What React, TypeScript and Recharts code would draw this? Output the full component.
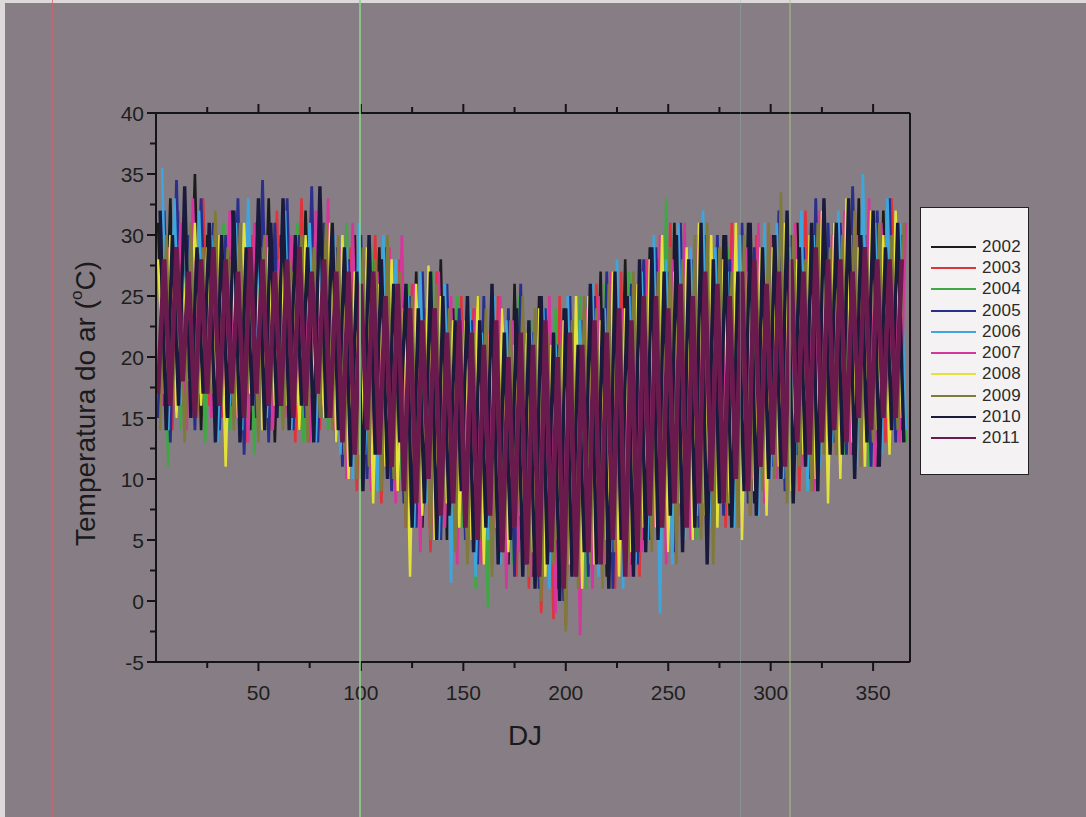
import { Legend, Line, LineChart, XAxis, YAxis } from 'recharts';

// three interleaved sampling grids (day of year)
const daysA = [
  1, 4, 7, 10, 13, 16, 19, 22, 25, 28,
  31, 34, 37, 40, 43, 46, 49, 52, 55, 58,
  61, 64, 67, 70, 73, 76, 79, 82, 85, 88,
  91, 94, 97, 100, 103, 106, 109, 112, 115, 118,
  121, 124, 127, 130, 133, 136, 139, 142, 145, 148,
  151, 154, 157, 160, 163, 166, 169, 172, 175, 178,
  181, 184, 187, 190, 193, 196, 199, 202, 205, 208,
  211, 214, 217, 220, 223, 226, 229, 232, 235, 238,
  241, 244, 247, 250, 253, 256, 259, 262, 265, 268,
  271, 274, 277, 280, 283, 286, 289, 292, 295, 298,
  301, 304, 307, 310, 313, 316, 319, 322, 325, 328,
  331, 334, 337, 340, 343, 346, 349, 352, 355, 358,
  361, 364,
];
const daysB = [
  2, 5, 8, 11, 14, 17, 20, 23, 26, 29,
  32, 35, 38, 41, 44, 47, 50, 53, 56, 59,
  62, 65, 68, 71, 74, 77, 80, 83, 86, 89,
  92, 95, 98, 101, 104, 107, 110, 113, 116, 119,
  122, 125, 128, 131, 134, 137, 140, 143, 146, 149,
  152, 155, 158, 161, 164, 167, 170, 173, 176, 179,
  182, 185, 188, 191, 194, 197, 200, 203, 206, 209,
  212, 215, 218, 221, 224, 227, 230, 233, 236, 239,
  242, 245, 248, 251, 254, 257, 260, 263, 266, 269,
  272, 275, 278, 281, 284, 287, 290, 293, 296, 299,
  302, 305, 308, 311, 314, 317, 320, 323, 326, 329,
  332, 335, 338, 341, 344, 347, 350, 353, 356, 359,
  362, 365,
];
const daysC = [
  3, 6, 9, 12, 15, 18, 21, 24, 27, 30,
  33, 36, 39, 42, 45, 48, 51, 54, 57, 60,
  63, 66, 69, 72, 75, 78, 81, 84, 87, 90,
  93, 96, 99, 102, 105, 108, 111, 114, 117, 120,
  123, 126, 129, 132, 135, 138, 141, 144, 147, 150,
  153, 156, 159, 162, 165, 168, 171, 174, 177, 180,
  183, 186, 189, 192, 195, 198, 201, 204, 207, 210,
  213, 216, 219, 222, 225, 228, 231, 234, 237, 240,
  243, 246, 249, 252, 255, 258, 261, 264, 267, 270,
  273, 276, 279, 282, 285, 288, 291, 294, 297, 300,
  303, 306, 309, 312, 315, 318, 321, 324, 327, 330,
  333, 336, 339, 342, 345, 348, 351, 354, 357, 360,
  363, 366,
];

const t2002 = [
  31, 16, 33, 15, 28, 18, 35, 14, 30, 17,
  29, 15, 32, 17, 27, 14, 31, 16, 33, 13,
  30, 17, 28, 14, 32, 16, 29, 15, 31, 13,
  28, 12, 30, 10, 26, 13, 29, 11, 27, 9,
  25, 8, 27, 6, 23, 10, 28, 5, 24, 7,
  23, 6, 25, 4, 22, 8, 24, 3, 26, 5,
  22, 2, 25, 4, 21, 1, 24, 5, 23, 3,
  25, 4, 27, 2, 24, 6, 28, 3, 26, 5,
  29, 6, 27, 4, 31, 8, 26, 5, 30, 7,
  28, 9, 30, 7, 27, 10, 31, 8, 29, 11,
  30, 11, 28, 9, 31, 12, 29, 10, 32, 13,
  31, 13, 29, 12, 33, 15, 30, 11, 32, 14,
  30, 14,
];
const t2003 = [
  17, 30, 14, 32, 18, 29, 15, 33, 16, 31,
  15, 28, 17, 31, 13, 30, 16, 27, 14, 32,
  16, 29, 13, 33, 17, 28, 14, 31, 15, 27,
  12, 29, 9, 27, 11, 30, 8, 26, 10, 28,
  6, 26, 9, 24, 4, 27, 7, 23, 5, 25,
  4, 24, 7, 22, 3, 25, 6, 21, 2, 23,
  1, 23, -1, 21, -1.5, 25, -2, 22, 2, 24,
  3, 26, 5, 24, 1, 27, 4, 25, 2, 28,
  5, 28, 7, 31, 4, 27, 8, 29, 6, 30,
  8, 29, 6, 31, 9, 28, 7, 30, 10, 27,
  10, 31, 12, 29, 9, 32, 11, 30, 13, 28,
  12, 30, 14, 32, 11, 29, 15, 31, 13, 33,
  14, 29,
];
const t2004 = [
  29, 11, 31, 14, 27, 16, 30, 13, 28, 15,
  31, 14, 28, 16, 30, 12, 27, 17, 29, 15,
  28, 15, 31, 13, 29, 17, 26, 14, 30, 16,
  31, 11, 28, 13, 29, 9, 26, 12, 27, 10,
  26, 7, 24, 9, 27, 5, 23, 8, 25, 6,
  24, 1, 22, -0.5, 23, 5, 21, 3, 25, 6,
  23, 4, 21, 2, 24, 5, 22, 3, 25, 1,
  24, 3, 26, 5, 23, 2, 27, 4, 25, 6,
  28, 4, 33, 6, 29, 8, 27, 5, 30, 7,
  27, 9, 29, 7, 26, 10, 28, 8, 30, 11,
  29, 10, 31, 12, 28, 9, 30, 11, 27, 13,
  30, 12, 28, 14, 31, 11, 29, 13, 32, 15,
  29, 13,
];
const t2005 = [
  15, 32, 13, 34.5, 16, 30, 14, 33, 17, 31,
  14, 30, 16, 33, 12, 29, 15, 34.5, 13, 31,
  16, 33, 14, 30, 15, 34, 13, 31, 16, 29,
  11, 28, 13, 30, 10, 27, 12, 29, 9, 26,
  8, 25, 6, 27, 9, 23, 5, 26, 7, 24,
  5, 23, 3, 25, 6, 22, 4, 24, 2, 26,
  3, 22, 1, 24, 4, 21, 0, 25, 2, 23,
  2, 25, 4, 27, 1, 24, 5, 26, 3, 28,
  5, 29, 7, 27, 4, 31, 8, 28, 6, 30,
  9, 30, 7, 28, 10, 31, 8, 29, 11, 27,
  11, 32, 9, 30, 12, 29, 10, 33, 13, 31,
  13, 31, 12, 34, 14, 30, 11, 32, 15, 33,
  13, 30,
];
const t2006 = [
  35.5, 14, 33, 16, 29, 15, 32, 17, 30, 13,
  28, 16, 31, 14, 33, 17, 29, 15, 27, 16,
  32, 14, 29, 16, 31, 13, 28, 15, 30, 12,
  29, 10, 31, 12, 27, 9, 30, 11, 28, 13,
  25, 6, 27, 8, 24, 5, 26, 1.5, 23, 9,
  24, 2, 22, 5, 25, 3, 23, 6, 21, 4,
  22, 3, 24, 1, 21, 4, 25, 2, 23, 5,
  26, 2, 24, 4, 28, 1, 25, 3, 27, 5,
  30, -1, 28, 3, 31, 5, 29, 7, 32, 6,
  29, 8, 27, 6, 30, 9, 28, 7, 31, 10,
  31, 10, 29, 12, 32, 9, 30, 11, 28, 13,
  32, 13, 30, 11, 35, 14, 31, 12, 33, 15,
  31, 14,
];
const t2007 = [
  16, 29, 18, 31, 14, 33, 17, 28, 15, 30,
  17, 32, 15, 29, 13, 31, 16, 30, 14, 28,
  15, 30, 17, 28, 13, 32, 16, 33, 14, 29,
  10, 31, 12, 28, 9, 27, 11, 29, 8, 30,
  7, 26, 4, 24, 8, 27, 6, 25, 3, 23,
  5, 24, 3, 22, 6, 25, 1, 23, 4, 21,
  2, 21, 4, 25, -1, 23, 3, 22, -2.8, 24,
  1, 25, 3, 27, 5, 24, 2, 26, 4, 28,
  6, 30, 3, 28, 7, 31, 5, 29, 8, 27,
  7, 28, 9, 30, 6, 29, 10, 31, 8, 30,
  10, 29, 12, 31, 11, 28, 9, 32, 13, 30,
  14, 32, 12, 30, 13, 33, 11, 31, 15, 29,
  13, 31,
];
const t2008 = [
  28, 17, 30, 15, 27, 18, 31, 16, 29, 17,
  30, 11, 28, 15, 31, 17, 27, 14, 29, 16,
  29, 16, 27, 14, 30, 17, 28, 15, 31, 13,
  30, 10, 27, 12, 29, 8, 26, 11, 28, 9,
  24, 2, 26, 7, 27.5, 5, 25, 8, 23, 6,
  23, 5, 25, 3, 22, 6, 24, 4, 21, 7,
  22, 4, 24, 2, 21, 5, 23, 3, 25, 1,
  25, 3, 23, 5, 27, 2, 24, 4, 26, 6,
  28, 6, 30, 4, 27, 8, 29, 5, 31, 7,
  30, 6, 28, 8, 31, 5, 27, 9, 29, 7,
  29, 11, 31, 9, 28, 12, 30, 10, 32, 8,
  31, 10, 33, 13, 29, 11, 32, 14, 30, 12,
  32, 15,
];
const t2009 = [
  14, 30, 16, 28, 13, 31, 15, 29, 17, 32,
  16, 29, 14, 31, 15, 28, 13, 30, 16, 27,
  14, 28, 16, 30, 13, 29, 15, 31, 14, 30,
  12, 27, 10, 29, 11, 28, 9, 30, 10, 27,
  6, 25, 8, 23, 5, 26, 7, 24, 4, 22,
  3, 22, 5, 24, 2, 21, 4, 23, 6, 25,
  2, 24, 0, 22, 3, 21, -2.5, 23, 1, 25,
  3, 24, 1, 26, 4, 23, 2, 27, 5, 25,
  4, 27, 6, 29, 3, 28, 7, 30, 5, 31,
  3, 29, 8, 27, 6, 30, 7, 28, 9, 31,
  10, 33.5, 8, 30, 11, 28, 9, 31, 12, 29,
  12, 30, 14, 32, 11, 29, 13, 31, 15, 30,
  14, 31,
];
const t2010 = [
  32, 14, 30, 16, 34, 15, 29, 17, 31, 13,
  30, 15, 32, 13, 29, 16, 33, 14, 31, 15,
  33, 14, 30, 16, 29, 13, 34, 15, 31, 14,
  29, 11, 27, 9, 30, 12, 28, 10, 26, 13,
  26, 6, 24, 8, 27, 5, 25, 7, 23, 9,
  25, 4, 23, 6, 26, 3, 22, 5, 24, 2,
  23, 1, 25, 3, 22, 0, 24, 2, 21, 4,
  26, 3, 24, 1, 27, 5, 25, 2, 28, 4,
  29, 5, 27, 7, 30, 4, 28, 6, 31, 3,
  28, 8, 30, 6, 27, 9, 31, 7, 29, 10,
  30, 10, 32, 8, 29, 11, 31, 9, 33, 12,
  31, 12, 33, 10, 30, 13, 32, 11, 29, 14,
  31, 13,
];
const t2011 = [
  17, 28, 16, 29, 18, 27, 15, 28, 17, 29,
  16, 28, 17, 27, 15, 29, 17, 28, 16, 27,
  16, 28, 15, 29, 16, 27, 17, 28, 15, 27,
  13, 27, 12, 26, 14, 27, 12, 25, 11, 26,
  9, 24, 8, 23, 10, 24, 7, 22, 8, 23,
  6, 22, 5, 21, 7, 23, 4, 20, 6, 22,
  3, 21, 2, 23, 4, 20, 1, 22, 2, 21,
  4, 23, 3, 22, 5, 24, 2, 23, 4, 25,
  7, 25, 6, 24, 8, 26, 6, 25, 8, 27,
  9, 26, 8, 25, 10, 27, 9, 28, 11, 26,
  12, 27, 11, 28, 13, 27, 12, 29, 13, 28,
  14, 28, 13, 27, 15, 29, 14, 28, 15, 28,
  15, 28,
];

const years = ['2002', '2003', '2004', '2005', '2006', '2007', '2008', '2009', '2010', '2011'];
const values = [t2002, t2003, t2004, t2005, t2006, t2007, t2008, t2009, t2010, t2011];
const grids = [daysA, daysB, daysC, daysA, daysC, daysC, daysA, daysB, daysB, daysA];
const colors = [
  '#1c1c1c', '#e0343c', '#3fa845', '#2b2f8c', '#3ea6dc',
  '#d4369c', '#e4e23a', '#7f7a3c', '#1a1a3c', '#6a1a4c',
];
const widths = [2.6, 2.6, 2.6, 2.8, 2.6, 2.6, 2.4, 2.6, 3.4, 4.6];

const xTicks = [25, 50, 75, 100, 125, 150, 175, 200, 225, 250, 275, 300, 325, 350];
const yTicks = [-5, -2.5, 0, 2.5, 5, 7.5, 10, 12.5, 15, 17.5, 20, 22.5, 25, 27.5, 30, 32.5, 35, 37.5, 40];

const seriesData = values.map((vals, k) => grids[k].map((d, i) => ({ day: d, t: vals[i] })));

const FONT = '"Liberation Sans", Arial, sans-serif';
const INK = '#141414';

function BottomTick({ x, y, payload }: any) {
  const major = payload.value % 50 === 0;
  return (
    <g>
      <line x1={x} x2={x} y1={y} y2={y + (major ? 9 : 6)} stroke={INK} strokeWidth={2} />
      {major && (
        <text x={x} y={y + 38} textAnchor="middle" fontSize={21} fill="#1e1e1e" fontFamily={FONT}>
          {payload.value}
        </text>
      )}
    </g>
  );
}

function TopTick({ x, y, payload }: any) {
  const major = payload.value % 50 === 0;
  return <line x1={x} x2={x} y1={y} y2={y - (major ? 9 : 6)} stroke={INK} strokeWidth={2} />;
}

function LeftTick({ x, y, payload }: any) {
  const major = payload.value % 5 === 0;
  return (
    <g>
      <line x1={x} x2={x - (major ? 9 : 6)} y1={y} y2={y} stroke={INK} strokeWidth={2} />
      {major && (
        <text x={x - 12} y={y} dy="0.36em" textAnchor="end" fontSize={21} fill="#1e1e1e" fontFamily={FONT}>
          {payload.value}
        </text>
      )}
    </g>
  );
}

function YTitle({ viewBox }: any) {
  const cx = viewBox.x - 11;
  const cy = viewBox.y + viewBox.height / 2 + 16;
  return (
    <text
      x={cx}
      y={cy}
      transform={`rotate(-90 ${cx} ${cy})`}
      textAnchor="middle"
      dy="0.36em"
      fontSize={28}
      fill="#1a1a1a"
      fontFamily={FONT}
    >
      Temperatura do ar (
      <tspan fontSize={17} dy="-0.75em">o</tspan>
      <tspan dy="0.45em">C)</tspan>
    </text>
  );
}

function XTitle({ viewBox }: any) {
  return (
    <text
      x={viewBox.x + viewBox.width / 2 - 8}
      y={viewBox.y + 83}
      textAnchor="middle"
      fontSize={28}
      fill="#1a1a1a"
      fontFamily={FONT}
    >
      DJ
    </text>
  );
}

function YearLegend() {
  return (
    <div
      style={{
        width: 109,
        height: 268,
        background: '#f4f2f3',
        border: '1.5px solid #222',
        boxSizing: 'border-box',
        paddingTop: 28,
        fontFamily: FONT,
      }}
    >
      {years.map((y, k) => (
        <div key={y} style={{ display: 'flex', alignItems: 'center', height: 21.3 }}>
          <div style={{ width: 45, height: 0, borderTop: `2px solid ${colors[k]}`, marginLeft: 10, marginRight: 6 }} />
          <span style={{ fontSize: 17, color: '#2a2a2a', letterSpacing: 0.3 }}>{y}</span>
        </div>
      ))}
    </div>
  );
}

const scanLines = [
  { left: 52, width: 1, color: 'rgba(215,95,110,0.75)' },
  { left: 359, width: 2, color: 'rgba(140,210,140,0.8)' },
  { left: 740, width: 1, color: 'rgba(150,190,170,0.35)' },
  { left: 789, width: 2, color: 'rgba(170,200,140,0.45)' },
];

export default function App() {
  return (
    <div
      style={{
        position: 'absolute',
        left: 0,
        top: 0,
        width: 1086,
        height: 817,
        background: '#867e84',
        overflow: 'hidden',
      }}
    >
      <div style={{ position: 'absolute', left: 0, top: 0, width: 1086, height: 3, background: '#ddd8da' }} />
      <div style={{ position: 'absolute', left: 0, top: 0, width: 5, height: 817, background: '#ddd8da' }} />
      <LineChart width={1086} height={817} margin={{ top: 112, right: 175, bottom: 115, left: 96 }}>
        <XAxis
          dataKey="day"
          type="number"
          domain={[0, 368]}
          ticks={xTicks}
          interval={0}
          height={40}
          tickSize={0}
          tickMargin={0}
          tick={<BottomTick />}
          axisLine={{ stroke: INK, strokeWidth: 2 }}
          allowDataOverflow
          label={<XTitle />}
        />
        <XAxis
          xAxisId="top"
          dataKey="day"
          type="number"
          orientation="top"
          domain={[0, 368]}
          ticks={xTicks}
          interval={0}
          height={1}
          tickSize={0}
          tickMargin={0}
          tick={<TopTick />}
          axisLine={{ stroke: INK, strokeWidth: 2 }}
          allowDataOverflow
        />
        <YAxis
          type="number"
          domain={[-5, 40]}
          ticks={yTicks}
          interval={0}
          width={60}
          tickSize={0}
          tickMargin={0}
          tick={<LeftTick />}
          axisLine={{ stroke: INK, strokeWidth: 2 }}
          allowDataOverflow
          label={<YTitle />}
        />
        <YAxis
          yAxisId="right"
          orientation="right"
          type="number"
          domain={[-5, 40]}
          width={1}
          tick={false}
          tickLine={false}
          axisLine={{ stroke: INK, strokeWidth: 2 }}
        />
        {years.map((y, k) => (
          <Line
            key={y}
            data={seriesData[k]}
            dataKey="t"
            name={y}
            type="linear"
            stroke={colors[k]}
            strokeWidth={widths[k]}
            strokeLinejoin="miter"
            dot={false}
            isAnimationActive={false}
          />
        ))}
        <Legend
          layout="vertical"
          align="center"
          verticalAlign="middle"
          content={<YearLegend />}
          wrapperStyle={{ left: 920, top: 207, width: 109, height: 268 }}
        />
      </LineChart>
      {scanLines.map((s) => (
        <div
          key={s.left}
          style={{
            position: 'absolute',
            left: s.left,
            top: 0,
            width: s.width,
            height: 817,
            background: s.color,
            pointerEvents: 'none',
          }}
        />
      ))}
    </div>
  );
}
